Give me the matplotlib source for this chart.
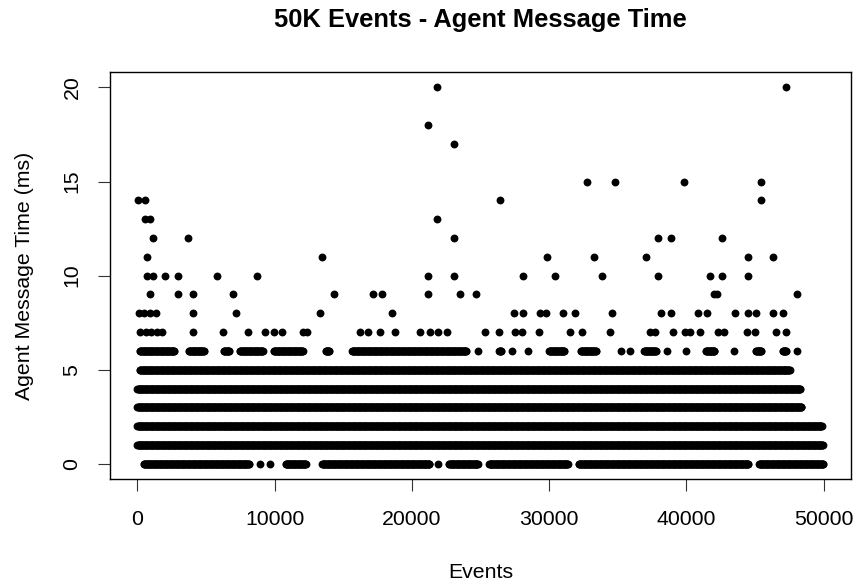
import numpy as np
import matplotlib
matplotlib.use("Agg")
import matplotlib.pyplot as plt

plt.rcParams['font.family'] = ['Liberation Sans', 'DejaVu Sans']

######
"""Message times (ms) per event. Dense levels are kept as runs of events (start, end),
a run with start == end is a single event. Rare levels are kept as single events."""
lvl0_runs = [(460, 8140), (8920, 8920), (9650, 9650), (10790, 12270), (13460, 21270),
             (21920, 21920), (22700, 24800), (25620, 31360), (32160, 44490), (45300, 49960)]
lvl1_runs = [(1, 49960)]
lvl2_runs = [(1, 49880)]
lvl3_runs = [(1, 48370)]
lvl4_runs = [(1, 48300)]
lvl5_runs = [(170, 47520)]
lvl6_runs = [(170, 2670), (3740, 4860), (6290, 6680), (7460, 9120), (9940, 12030),
             (13710, 13970), (15650, 23940), (24850, 24850), (26350, 26510), (27280, 27280),
             (28490, 28490), (30000, 31110), (32310, 33420), (35230, 35230), (35900, 35900),
             (36920, 37800), (38580, 38580), (39970, 39970), (41420, 42050), (43490, 43490),
             (45070, 45460), (47010, 47280), (48060, 48060)]

lvl7_events = [220, 620, 1020, 1420, 1820, 4050, 6240, 8070, 9280, 9960, 10500, 12030, 12330,
               16210, 16820, 17690, 18780, 20590, 21320, 21880, 22540, 25330, 26370, 27520,
               28000, 29290, 31530, 32380, 34450, 37340, 37700, 39060, 39920, 40280, 41010,
               42340, 42710, 44400, 45010, 46500, 47230]
lvl8_events = [100, 500, 900, 1340, 4050, 7170, 13300, 18520, 27470, 28120, 29340, 29780,
               31000, 31890, 34570, 38150, 38890, 40880, 41540, 43560, 44460, 45090, 46350, 47040]
lvl9_events = [900, 2960, 4050, 6970, 14340, 17180, 17790, 21150, 23510, 24670, 41980, 42230, 48100]
lvl10_events = [730, 1140, 1990, 2960, 5800, 8680, 21150, 23070, 28120, 30440, 33840, 37970,
                41690, 42620, 44460]
lvl11_events = [730, 13460, 29830, 33280, 37050, 44460, 46350]
lvl12_events = [1140, 3650, 23070, 37970, 38890, 42620]
lvl13_events = [580, 900, 21850]
lvl14_events = [40, 580, 26420, 45410]
lvl15_events = [32770, 34790, 39860, 45410]
lvl17_events = [23070]
lvl18_events = [21150]
lvl20_events = [21850, 47280]

x_ticks = [0, 10000, 20000, 30000, 40000, 50000]
y_ticks = [0, 5, 10, 15, 20]
#####
"""Turn runs into consecutive events, and put everything in two flat arrays."""
xs = []
ys = []
run_lists = [lvl0_runs, lvl1_runs, lvl2_runs, lvl3_runs, lvl4_runs, lvl5_runs, lvl6_runs]
for level, runs in enumerate(run_lists):
	for start, end in runs:
		ev = np.append(np.arange(start, end, 40), end)
		xs.extend(ev)
		ys.extend([level] * len(ev))
event_lists = {7: lvl7_events, 8: lvl8_events, 9: lvl9_events, 10: lvl10_events,
               11: lvl11_events, 12: lvl12_events, 13: lvl13_events, 14: lvl14_events,
               15: lvl15_events, 17: lvl17_events, 18: lvl18_events, 20: lvl20_events}
for level, ev in event_lists.items():
	xs.extend(ev)
	ys.extend([level] * len(ev))
xs = np.array(xs)
ys = np.array(ys)
#####
"""Plotting, base-R look."""
fig = plt.figure(figsize=(8.59, 5.86), dpi=100)
ax = fig.add_axes([110 / 859, 1 - 479 / 586, 741 / 859, 406.7 / 586])
ax.scatter(xs, ys, s=32, c='black', linewidths=0)
ax.set_xlim(-2000, 52000)
ax.set_ylim(-0.8, 20.8)
ax.set_xticks(x_ticks)
ax.set_xticklabels([str(t) for t in x_ticks])
ax.set_yticks(y_ticks)
ax.set_yticklabels([str(t) for t in y_ticks], rotation=90, va='center')
ax.tick_params(direction='out', length=8.6, width=0.8, labelsize=15.3, color='#333333')
ax.tick_params(axis='x', pad=14)
ax.tick_params(axis='y', pad=12)
for sp in ax.spines.values():
	sp.set_linewidth(1.0)
	sp.set_color('black')

fig.text(480.5 / 859, 1 - 20 / 586, "50K Events - Agent Message Time", ha='center', va='center',
         fontsize=18.4, fontweight='bold')
fig.text(480.5 / 859, 1 - 572 / 586, "Events", ha='center', va='center', fontsize=15.3)
fig.text(25 / 859, 1 - 275.6 / 586, "Agent Message Time (ms)", ha='center', va='center',
         rotation=90, fontsize=15.3)

plt.savefig("out.png", dpi=100)
